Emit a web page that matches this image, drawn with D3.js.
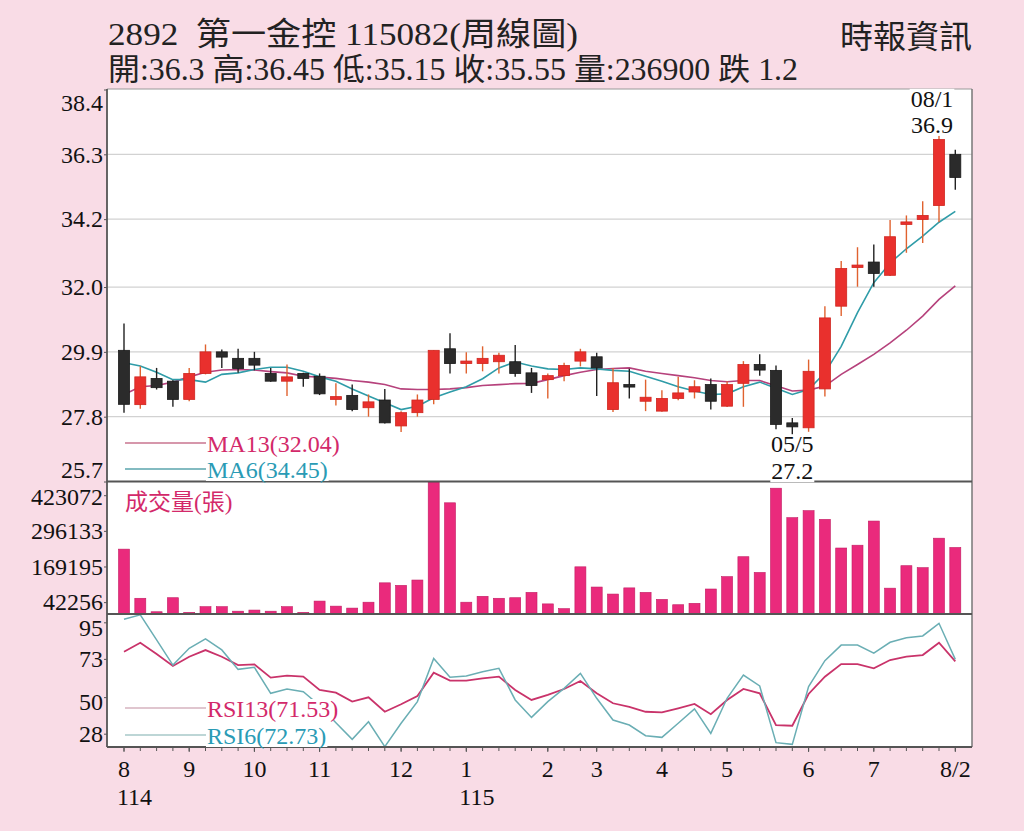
<!DOCTYPE html>
<html lang="zh-Hant">
<head>
<meta charset="UTF-8">
<title>2892 第一金控 周線圖</title>
<script src="https://d3js.org/d3.v7.min.js"></script>
<style>
    body { margin: 0; background: #f9dce6; }
    svg { display: block; }
    text { font-family: "Liberation Serif", "Noto Sans CJK TC", serif; }
</style>
</head>
<body>
<svg width="1024" height="831"></svg>
<script>
// ---- data (index 0 = first week of 114/08) ----
const open  = [29.95,28.19,29.04,28.95,28.36,29.20,29.90,29.69,29.69,29.20,28.95,29.20,29.11,28.36,28.49,28.09,28.34,27.50,27.93,28.36,
               30.00,29.51,29.52,29.58,29.58,29.22,29.00,29.13,29.60,29.74,28.03,28.84,28.30,27.98,28.39,28.60,28.84,28.14,28.88,29.49,
               29.30,27.60,27.44,28.70,31.38,32.62,32.81,32.38,34.03,34.19,34.64,36.30];
const high  = [30.82,29.43,29.38,28.98,29.38,30.14,29.98,30.00,29.90,29.38,29.49,29.22,29.20,28.88,28.84,28.52,28.70,27.98,28.52,29.95,
               30.50,29.89,30.08,29.87,30.12,29.38,29.20,29.55,30.00,29.87,29.38,29.35,29.00,28.66,29.09,28.98,29.04,28.95,29.60,29.82,
               29.46,27.76,29.65,31.38,32.84,33.29,33.38,34.17,34.32,34.78,36.90,36.45];
const low   = [27.93,28.06,28.68,28.12,28.30,29.17,29.38,29.22,29.30,28.93,28.47,28.77,28.50,28.16,27.98,27.80,27.58,27.30,27.80,28.20,
               29.20,29.20,29.27,29.20,29.09,28.57,28.39,28.95,29.43,28.47,27.95,28.39,27.98,27.96,28.33,28.39,28.03,28.11,28.12,29.13,
               27.39,27.20,27.31,28.45,31.06,32.01,32.01,32.36,33.11,33.43,34.10,35.15];
const close = [28.20,29.09,28.74,28.36,29.20,29.90,29.73,29.36,29.47,28.95,29.09,29.04,28.54,28.45,28.03,28.28,27.60,27.93,28.34,29.95,
               29.52,29.57,29.69,29.79,29.20,28.81,29.13,29.46,29.90,29.38,28.90,28.76,28.43,28.39,28.57,28.77,28.30,28.84,29.49,29.31,
               27.55,27.47,29.27,31.00,32.60,32.68,32.44,33.63,34.11,34.32,36.78,35.55];
const volume = [231000,56000,8000,58000,6000,26000,26000,10000,14000,10000,26000,6000,46000,28000,21000,42000,111000,102000,121000,470080,
                396000,42000,63000,56000,58000,77000,36000,19000,168000,96000,71000,93000,77000,52000,33000,38000,89000,133000,204000,148000,
                448000,343000,368000,337000,235000,245000,331000,92000,172000,165000,270000,236900];
const ma6  = [29.55,29.44,29.24,29.00,29.00,28.92,29.17,29.22,29.33,29.40,29.40,29.27,29.09,28.95,28.70,28.47,28.25,28.03,28.14,28.41,
              28.60,28.77,29.03,29.38,29.57,29.44,29.35,29.33,29.38,29.35,29.30,29.27,29.11,28.95,28.77,28.63,28.52,28.54,28.77,28.92,
              28.72,28.52,28.68,29.22,30.08,31.17,32.14,32.78,33.24,33.65,34.10,34.45];
const ma13 = [28.52,28.77,28.81,28.92,29.09,29.24,29.31,29.33,29.31,29.26,29.22,29.11,29.08,29.04,28.97,28.92,28.84,28.70,28.68,28.68,
              28.70,28.74,28.81,28.84,28.87,28.88,29.00,29.13,29.24,29.33,29.36,29.38,29.27,29.20,29.13,29.06,28.97,28.93,28.97,28.97,
              28.80,28.63,28.66,28.79,29.17,29.49,29.82,30.19,30.60,31.06,31.60,32.04];
const rsi6  = [96.8,99.5,84.4,69.3,79.4,85.0,78.4,66.7,67.9,52.3,54.9,53.3,45.0,34.6,24.6,35.2,20.2,34.3,47.3,73.3,
               61.9,62.7,65.3,67.3,48.3,37.8,47.3,55.3,64.3,49.3,36.2,33.2,26.8,25.8,34.3,42.9,28.2,49.3,63.3,56.7,
               22.6,21.6,56.3,71.9,81.3,81.3,76.4,83.0,85.7,86.8,94.4,72.73];
const rsi13 = [77.3,82.7,75.9,68.7,74.3,78.3,74.3,69.3,69.7,61.7,62.9,62.3,54.3,52.7,47.3,49.9,41.2,45.7,50.7,64.7,
               59.9,59.9,61.3,62.3,54.3,48.3,51.3,54.9,59.7,52.3,46.3,44.2,41.2,40.8,43.3,45.9,39.7,48.3,54.9,52.3,
               33.2,32.8,51.9,62.3,69.9,69.9,67.3,72.3,74.3,75.3,82.7,71.53];

const priceTicks = [25.7, 27.8, 29.9, 32.0, 34.2, 36.3, 38.4];
const volTicks = [42256, 169195, 296133, 423072];
const volMax = 470080;
const rsiTicks = [28, 50, 73, 95];
const monthIdx = [0, 4, 8, 12, 17, 21, 26, 29, 33, 37, 42, 46, 51];
const monthLabels = ["8", "9", "10", "11", "12", "1", "2", "3", "4", "5", "6", "7", "8/2"];
const yearIdx = [0, 21];
const yearLabels = ["114", "115"];
const extremes = [{i: 50, date: "08/1", value: "36.9", at: "high"}, {i: 41, date: "05/5", value: "27.2", at: "low"}];

const title1 = "2892  第一金控 115082(周線圖)";
const title2 = "開:36.3 高:36.45 低:35.15 收:35.55 量:236900 跌 1.2";
const source = "時報資訊";
const legendMA = [{name: "MA13(32.04)", line: "#c9748f", text: "#d3296a"}, {name: "MA6(34.45)", line: "#5aa5ad", text: "#2a9bb5"}];
const legendRSI = [{name: "RSI13(71.53)", line: "#d6b3bf", text: "#d3296a"}, {name: "RSI6(72.73)", line: "#a7c9c9", text: "#2a9bb5"}];

// ---- layout ----
const svg = d3.select("svg");
const L = 107, R = 972, T = 89;
const priceBottom = 481.5, volBottom = 614, rsiBottom = 747;
const n = close.length;

const x = d3.scaleBand().domain(d3.range(n)).range([115.85, 963.45]).padding(0);
const cx = i => x(i) + x.bandwidth() / 2;
const yP = d3.scaleLinear().domain([25.7, 38.4]).range([priceBottom, 89.5]);
const yV = d3.scaleLinear().domain([0, volMax]).range([volBottom, 482]);
const yR = d3.scaleLinear().domain([20, 100]).range([rsiBottom, 614]);

svg.append("rect").attr("width", 1024).attr("height", 831).attr("fill", "#f9dce6");
svg.append("rect").attr("x", L).attr("y", T).attr("width", R - L).attr("height", rsiBottom - T).attr("fill", "#fff");

// header
svg.append("text").attr("x", 108).attr("y", 45).attr("font-size", 32).attr("fill", "#222")
    .style("white-space", "pre").attr("textLength", 470).attr("lengthAdjust", "spacingAndGlyphs").text(title1);
svg.append("text").attr("x", 108).attr("y", 80).attr("font-size", 31).attr("fill", "#222")
    .attr("textLength", 690).attr("lengthAdjust", "spacingAndGlyphs").text(title2);
svg.append("text").attr("x", 840).attr("y", 48).attr("font-size", 32).attr("fill", "#222")
    .attr("textLength", 132).attr("lengthAdjust", "spacingAndGlyphs").text(source);

// price grid
svg.append("g").selectAll("line").data(priceTicks.slice(1, -1)).join("line")
    .attr("x1", L).attr("x2", R).attr("y1", d => yP(d)).attr("y2", d => yP(d))
    .attr("stroke", "#d2d2d2").attr("stroke-width", 1.2);

// axes
function styleAxis(g) {
    g.select(".domain").remove();
    g.selectAll(".tick line").attr("stroke", "#555");
    g.selectAll(".tick text").attr("font-size", 24).attr("fill", "#111")
        .attr("font-family", "Liberation Serif");
}
svg.append("g").attr("transform", `translate(${L},0)`)
    .call(d3.axisLeft(yP).tickValues(priceTicks).tickSize(3).tickPadding(1).tickFormat(d3.format(".1f")))
    .call(styleAxis)
    .call(g => g.selectAll(".tick text").attr("y", d => d === 38.4 ? 13 : d === 25.7 ? -12 : 0));
svg.append("g").attr("transform", `translate(${L},0)`)
    .call(d3.axisLeft(yV).tickValues(volTicks).tickSize(3).tickPadding(1).tickFormat(d3.format("d")))
    .call(styleAxis)
    .call(g => g.selectAll(".tick text").attr("y", d => d === 423072 ? 2 : 0));
svg.append("g").attr("transform", `translate(${L},0)`)
    .call(d3.axisLeft(yR).tickValues(rsiTicks).tickSize(3).tickPadding(1))
    .call(styleAxis)
    .call(g => g.selectAll(".tick text").attr("y", d => d === 95 ? 5 : d === 50 ? 5 : 0));

svg.append("g").attr("transform", `translate(0,${rsiBottom})`)
    .call(d3.axisBottom(x).tickValues(d3.range(n)).tickSize(4).tickFormat(""))
    .call(styleAxis);
svg.append("g").attr("transform", `translate(0,${rsiBottom})`)
    .call(d3.axisBottom(x).tickValues(monthIdx).tickSize(5).tickPadding(8).tickFormat(i => monthLabels[monthIdx.indexOf(i)]))
    .call(styleAxis);
svg.append("g").selectAll("text").data(yearIdx).join("text")
    .attr("x", i => cx(i) - 7).attr("y", 805).attr("font-size", 24).attr("fill", "#111")
    .text((i, k) => yearLabels[k]);

// moving averages
const lineOf = (scale, arr) => d3.line().x((d, i) => cx(i)).y(d => scale(d))(arr);
svg.append("path").attr("d", lineOf(yP, ma13)).attr("fill", "none").attr("stroke", "#b6427c").attr("stroke-width", 1.6);
svg.append("path").attr("d", lineOf(yP, ma6)).attr("fill", "none").attr("stroke", "#2f9ca8").attr("stroke-width", 1.6);

// candles
const up = i => close[i] >= open[i];
const cw = 11;
const candles = svg.append("g").selectAll("g").data(d3.range(n)).join("g");
candles.append("line")
    .attr("x1", i => cx(i)).attr("x2", i => cx(i))
    .attr("y1", i => yP(high[i])).attr("y2", i => yP(low[i]))
    .attr("stroke", i => up(i) ? "#e0622f" : "#222").attr("stroke-width", 1.4);
candles.append("rect")
    .attr("x", i => cx(i) - cw / 2).attr("width", cw)
    .attr("y", i => Math.min(yP(open[i]), yP(close[i])) - (Math.abs(yP(open[i]) - yP(close[i])) < 2 ? 1 : 0))
    .attr("height", i => Math.max(2.5, Math.abs(yP(open[i]) - yP(close[i]))))
    .attr("fill", i => up(i) ? "#e9302d" : "#2b2b2b")
    .attr("stroke", i => up(i) ? "#d0261f" : "#1a1a1a").attr("stroke-width", 0.8);

// volume
svg.append("g").selectAll("rect").data(volume).join("rect")
    .attr("x", (d, i) => cx(i) - 5.5).attr("width", 11)
    .attr("y", d => yV(d)).attr("height", d => volBottom - yV(d))
    .attr("fill", "#ea2a7c").attr("stroke", "#c21c62").attr("stroke-width", 0.6);

// RSI
svg.append("path").attr("d", lineOf(yR, rsi13)).attr("fill", "none").attr("stroke", "#c9336a").attr("stroke-width", 1.8);
svg.append("path").attr("d", lineOf(yR, rsi6)).attr("fill", "none").attr("stroke", "#6aaeb4").attr("stroke-width", 1.5);

// frame and panel separators
svg.append("line").attr("x1", L).attr("x2", R).attr("y1", T).attr("y2", T).attr("stroke", "#9a9a9a").attr("stroke-width", 1.2);
svg.append("line").attr("x1", R).attr("x2", R).attr("y1", T).attr("y2", rsiBottom).attr("stroke", "#777").attr("stroke-width", 1.5);
svg.append("line").attr("x1", L).attr("x2", L).attr("y1", T).attr("y2", rsiBottom).attr("stroke", "#555").attr("stroke-width", 1.8);
[priceBottom, volBottom, rsiBottom].forEach(y => {
    svg.append("line").attr("x1", L).attr("x2", R).attr("y1", y).attr("y2", y).attr("stroke", "#555").attr("stroke-width", 2);
});

// text with white box behind it (covers lines like the original)
function boxedText(xx, yy, str, color, anchor) {
    const g = svg.append("g");
    const t = g.append("text").attr("x", xx).attr("y", yy).attr("font-size", 24)
        .attr("fill", color).attr("text-anchor", anchor || "start").text(str);
    const b = t.node().getBBox();
    g.insert("rect", "text").attr("x", b.x - 1).attr("y", b.y + 3).attr("width", b.width + 2).attr("height", b.height - 5)
        .attr("fill", "#fff");
}

// legends
legendMA.forEach((d, k) => {
    const yy = 443 + k * 26;
    svg.append("line").attr("x1", 125).attr("x2", 207).attr("y1", yy).attr("y2", yy).attr("stroke", d.line).attr("stroke-width", 1.3);
    boxedText(207, yy + 9, d.name, d.text);
});
legendRSI.forEach((d, k) => {
    const yy = 708 + k * 27;
    svg.append("line").attr("x1", 125).attr("x2", 207).attr("y1", yy).attr("y2", yy).attr("stroke", d.line).attr("stroke-width", 1.5);
    boxedText(207, yy + 9, d.name, d.text);
});
svg.append("text").attr("x", 125).attr("y", 510).attr("font-size", 23).attr("fill", "#d3296a")
    .attr("font-family", "Noto Sans CJK TC").text("成交量(張)");

// highest / lowest markers
extremes.forEach(d => {
    const xx = Math.min(cx(d.i), R - 40);
    if (d.at === "high") {
        boxedText(xx, yP(high[d.i]) - 29, d.date, "#111", "middle");
        boxedText(xx, yP(high[d.i]) - 3, d.value, "#111", "middle");
    } else {
        boxedText(xx, yP(low[d.i]) + 17, d.date, "#111", "middle");
        boxedText(xx, yP(low[d.i]) + 44, d.value, "#111", "middle");
    }
});
</script>
</body>
</html>
